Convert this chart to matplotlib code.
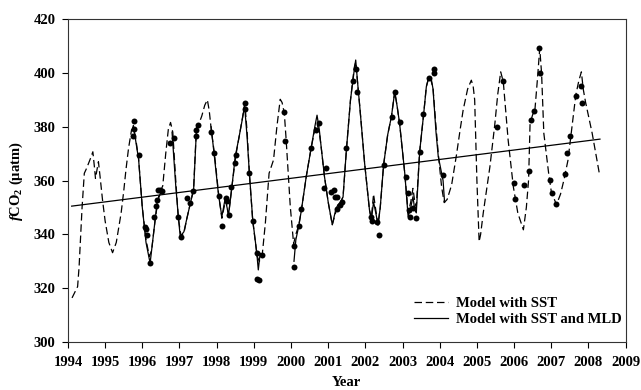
import numpy as np
import matplotlib
matplotlib.use("Agg")
import matplotlib.pyplot as plt

plt.rcParams['font.family'] = ['Liberation Serif', 'DejaVu Serif']
plt.rcParams['mathtext.fontset'] = 'custom'
plt.rcParams['mathtext.rm'] = 'Liberation Serif:bold'
plt.rcParams['mathtext.it'] = 'Liberation Serif:italic:bold'
plt.rcParams['mathtext.bf'] = 'Liberation Serif:bold'

# Model with SST (dashed)
sst_year = [1994.11, 1994.26, 1994.30, 1994.38, 1994.44, 1994.50, 1994.60, 1994.67, 1994.72,
            1994.74, 1994.78, 1994.82, 1994.86, 1994.93, 1995.00, 1995.10, 1995.20, 1995.30,
            1995.43, 1995.50, 1995.56, 1995.63, 1995.71, 1995.76, 1995.82, 1995.90, 1996.00,
            1996.10, 1996.19, 1996.25, 1996.35, 1996.45, 1996.55, 1996.63, 1996.70, 1996.76,
            1996.82, 1996.90, 1996.97, 1997.04, 1997.12, 1997.20, 1997.30, 1997.38, 1997.45,
            1997.52, 1997.60, 1997.68, 1997.75, 1997.80, 1997.86, 1997.94, 1998.06, 1998.14,
            1998.24, 1998.32, 1998.41, 1998.51, 1998.60, 1998.70, 1998.76, 1998.82, 1998.88,
            1998.97, 1999.09, 1999.15, 1999.23, 1999.31, 1999.41, 1999.53, 1999.62, 1999.71,
            1999.76, 1999.82, 1999.87, 1999.98, 2000.07, 2000.13, 2000.21, 2000.28, 2000.41,
            2000.54, 2000.64, 2000.70, 2000.76, 2000.81, 2000.90, 2001.00, 2001.11, 2001.20,
            2001.26, 2001.33, 2001.40, 2001.49, 2001.60, 2001.70, 2001.74, 2001.80, 2001.85,
            2001.98, 2002.11, 2002.16, 2002.22, 2002.27, 2002.34, 2002.40, 2002.49, 2002.60,
            2002.70, 2002.79, 2002.85, 2002.92, 2003.06, 2003.15, 2003.22, 2003.28, 2003.33,
            2003.37, 2003.46, 2003.57, 2003.64, 2003.71, 2003.77, 2003.82, 2003.90, 2003.96,
            2004.05, 2004.12, 2004.20, 2004.32, 2004.45, 2004.55, 2004.63, 2004.75, 2004.85,
            2004.90, 2004.94, 2005.00, 2005.06, 2005.10, 2005.17, 2005.35, 2005.48, 2005.56,
            2005.64, 2005.71, 2005.84, 2005.98, 2006.10, 2006.25, 2006.33, 2006.39, 2006.43,
            2006.50, 2006.56, 2006.63, 2006.69, 2006.74, 2006.80, 2006.93, 2007.00, 2007.14,
            2007.25, 2007.34, 2007.45, 2007.57, 2007.66, 2007.74, 2007.81, 2007.86, 2007.92,
            2008.10, 2008.30]
sst_fco2 = [316.4, 320.6, 328.0, 350.0, 362.7, 364.5, 368.0, 370.7, 364.0,
            360.8, 364.0, 367.0, 362.0, 352.8, 345.0, 337.0, 333.2, 337.0,
            347.9, 356.0, 364.0, 372.0, 378.8, 379.5, 376.0, 368.0, 350.0,
            338.0, 331.8, 334.0, 346.0, 355.0, 358.0, 370.0, 379.0, 381.6,
            378.0, 360.0, 346.0, 339.5, 340.5, 346.0, 352.0, 357.0, 378.0,
            381.0, 384.0, 388.0, 390.0, 386.0, 378.2, 370.1, 354.0, 346.0,
            352.8, 347.2, 357.7, 368.9, 376.0, 384.0, 388.5, 378.0, 362.7,
            345.0, 331.8, 330.0, 333.0, 344.2, 362.7, 367.7, 380.0, 390.2,
            389.0, 385.0, 375.0, 350.4, 336.5, 340.0, 343.5, 349.1, 361.5,
            372.0, 379.0, 381.0, 378.0, 372.6, 361.5, 352.0, 343.6, 348.0,
            351.0, 352.0, 354.0, 371.4, 390.0, 402.0, 404.0, 395.0, 387.4,
            366.4, 349.1, 346.0, 355.0, 350.0, 343.5, 350.0, 365.8, 377.0,
            383.7, 393.0, 388.0, 381.3, 362.7, 348.0, 352.0, 357.1, 352.0,
            350.4, 370.7, 385.0, 394.9, 398.6, 397.0, 394.3, 380.0, 370.1,
            357.7, 351.8, 353.0, 358.4, 369.5, 379.0, 386.2, 394.0, 397.3,
            395.0, 390.0, 360.0, 337.3, 340.0, 347.9, 365.2, 380.7, 392.0,
            400.4, 396.7, 375.1, 357.7, 348.0, 341.7, 350.0, 360.2, 381.3,
            384.5, 386.2, 398.0, 409.1, 399.8, 377.6, 362.7, 356.0, 351.0,
            355.0, 360.2, 367.6, 381.3, 391.8, 397.0, 400.4, 394.0, 389.3,
            377.6, 362.1]

# Model with SST and MLD (solid); NaN separates the covered periods
mld_year = [1995.72, 1995.76, 1995.82, 1995.90, 1996.00, 1996.10, 1996.21, 1996.30, 1996.40, 1996.52,
            np.nan,
            1996.80, 1996.90, 1996.97, 1997.02, 1997.12, 1997.20, 1997.30, 1997.38, 1997.46,
            np.nan,
            1997.85, 1997.93, 1998.05, 1998.14, 1998.23, 1998.32, 1998.41, 1998.50, 1998.60,
            1998.70, 1998.75, 1998.82, 1998.88, 1998.97, 1999.08, 1999.12, 1999.17, 1999.23,
            np.nan,
            2000.08, 2000.13, 2000.21, 2000.28, 2000.41, 2000.54, 2000.64, 2000.70, 2000.76,
            2000.81, 2000.90, 2001.00, 2001.11, 2001.20, 2001.26, 2001.33, 2001.40, 2001.49,
            2001.60, 2001.70, 2001.74, 2001.80, 2001.85, 2001.98, 2002.11, 2002.16, 2002.22,
            2002.28, 2002.34, 2002.40, 2002.49, 2002.60, 2002.70, 2002.79, 2002.85, 2002.92,
            2003.06, 2003.15, 2003.22, 2003.28, 2003.33, 2003.37, 2003.46, 2003.57, 2003.64,
            2003.71, 2003.77, 2003.82, 2003.90, 2003.96, 2004.09, 2004.13]
mld_fco2 = [378.5, 380.5, 375.0, 368.0, 350.0, 337.0, 329.3, 340.0, 352.0, 356.5,
            np.nan,
            378.0, 358.0, 346.4, 339.2, 341.0, 346.0, 352.0, 356.5, 380.0,
            np.nan,
            380.0, 370.1, 354.7, 346.6, 353.4, 347.2, 357.7, 368.9, 376.0,
            383.5, 388.0, 376.0, 362.7, 345.4, 333.0, 326.8, 333.0, 332.4,
            np.nan,
            330.0, 338.0, 343.2, 349.1, 361.5, 372.0, 380.0, 384.3, 379.0,
            372.6, 361.5, 352.0, 343.6, 349.0, 351.0, 351.5, 354.0, 371.4,
            390.0, 401.0, 404.8, 395.0, 387.4, 366.4, 349.1, 345.4, 352.0,
            348.0, 343.5, 350.0, 365.8, 377.0, 383.7, 393.0, 388.0, 381.3,
            362.7, 346.6, 350.0, 354.0, 349.0, 348.0, 370.7, 385.0, 394.9,
            398.6, 398.0, 394.0, 378.0, 369.0, 360.0, 352.0]

# Observed fCO2
obs_year = [1995.77, 1995.77, 1995.76, 1995.90, 1996.08, 1996.10, 1996.12, 1996.21, 1996.31, 1996.37,
            1996.39, 1996.42, 1996.48, 1996.53, 1996.75, 1996.84, 1996.97, 1997.04, 1997.21, 1997.29,
            1997.36, 1997.45, 1997.45, 1997.51, 1997.86, 1997.94, 1998.06, 1998.14, 1998.24, 1998.27,
            1998.32, 1998.39, 1998.49, 1998.52, 1998.75, 1998.77, 1998.88, 1998.97, 1999.09, 1999.22,
            1999.09, 1999.15, 1999.81, 1999.84, 2000.09, 2000.08, 2000.21, 2000.27, 2000.54, 2000.68,
            2000.74, 2000.93, 2000.90, 2001.08, 2001.15, 2001.17, 2001.24, 2001.24, 2001.31, 2001.38,
            2001.49, 2001.67, 2001.74, 2001.78, 2002.16, 2002.18, 2002.30, 2002.37, 2002.50, 2002.72,
            2002.81, 2002.92, 2003.08, 2003.15, 2003.17, 2003.21, 2003.28, 2003.37, 2003.46, 2003.55,
            2003.70, 2003.84, 2003.84, 2004.09, 2005.55, 2005.69, 2006.00, 2006.03, 2006.27, 2006.41,
            2006.45, 2006.54, 2006.68, 2006.71, 2006.96, 2007.03, 2007.14, 2007.38, 2007.42, 2007.51,
            2007.66, 2007.79, 2007.83]
obs_fco2 = [382.1, 379.0, 376.6, 369.5, 342.7, 341.9, 339.6, 329.5, 346.3, 350.7,
            352.8, 356.5, 356.5, 356.3, 373.8, 375.9, 346.4, 339.2, 353.6, 351.7,
            356.2, 378.8, 376.7, 380.6, 378.2, 370.1, 354.3, 343.2, 353.4, 352.5,
            347.2, 357.7, 366.4, 369.5, 386.5, 388.7, 362.7, 345.0, 333.0, 332.4,
            323.4, 322.9, 385.6, 374.8, 335.5, 327.8, 343.2, 349.4, 372.0, 378.8,
            381.3, 364.6, 357.4, 355.9, 356.5, 353.8, 353.8, 349.5, 350.9, 352.0,
            372.0, 397.0, 401.3, 393.0, 346.4, 345.0, 344.6, 339.8, 365.8, 383.7,
            393.0, 381.9, 361.5, 355.3, 349.1, 346.6, 349.7, 346.0, 370.7, 384.7,
            398.0, 401.4, 399.8, 361.9, 379.8, 397.1, 359.2, 353.2, 358.4, 363.7,
            382.5, 386.0, 409.1, 399.8, 360.2, 355.5, 351.2, 362.5, 370.4, 376.7,
            391.4, 395.2, 389.0]

# Linear trend
trend_year = [1994.10, 2008.31]
trend_fco2 = [350.5, 375.4]

x_ticks = list(range(1994, 2010))
y_ticks = list(range(300, 421, 20))

fig = plt.figure(figsize=(6.41, 3.90), dpi=100)
ax = fig.add_axes([0.106, 0.123, 0.870, 0.828])

ax.plot(sst_year, sst_fco2, color='black', lw=0.9, linestyle=(0, (6, 3)),
        label='Model with SST')
ax.plot(mld_year, mld_fco2, color='black', lw=0.9, label='Model with SST and MLD')
ax.plot(trend_year, trend_fco2, color='black', lw=0.9)
ax.plot(obs_year, obs_fco2, 'o', color='black', markersize=4.3, markeredgewidth=0)

ax.set_xlim(1994, 2009)
ax.set_ylim(300, 420)
ax.set_xticks(x_ticks)
ax.set_yticks(y_ticks)
ax.tick_params(direction='out', length=4, width=0.8, top=False, right=False,
               labelsize=10.5)
ax.tick_params(axis='x', pad=6)
ax.tick_params(axis='y', pad=5)
for lab in ax.get_xticklabels() + ax.get_yticklabels():
    lab.set_fontweight('bold')
for sp in ax.spines.values():
    sp.set_linewidth(0.8)
    sp.set_color('#333333')

ax.set_xlabel('Year', fontsize=10.5, fontweight='bold', labelpad=5)
ax.set_ylabel(r'$f$CO$_2$ (µatm)', fontsize=10.5, fontweight='bold', labelpad=6)

leg = ax.legend(loc='lower right', frameon=False, prop={'weight': 'bold', 'size': 10.5},
                handlelength=2.3, handletextpad=0.55, labelspacing=0.2,
                borderaxespad=0.0, borderpad=0.0, bbox_to_anchor=(0.993, 0.05))

fig.savefig('out.png', dpi=100)
